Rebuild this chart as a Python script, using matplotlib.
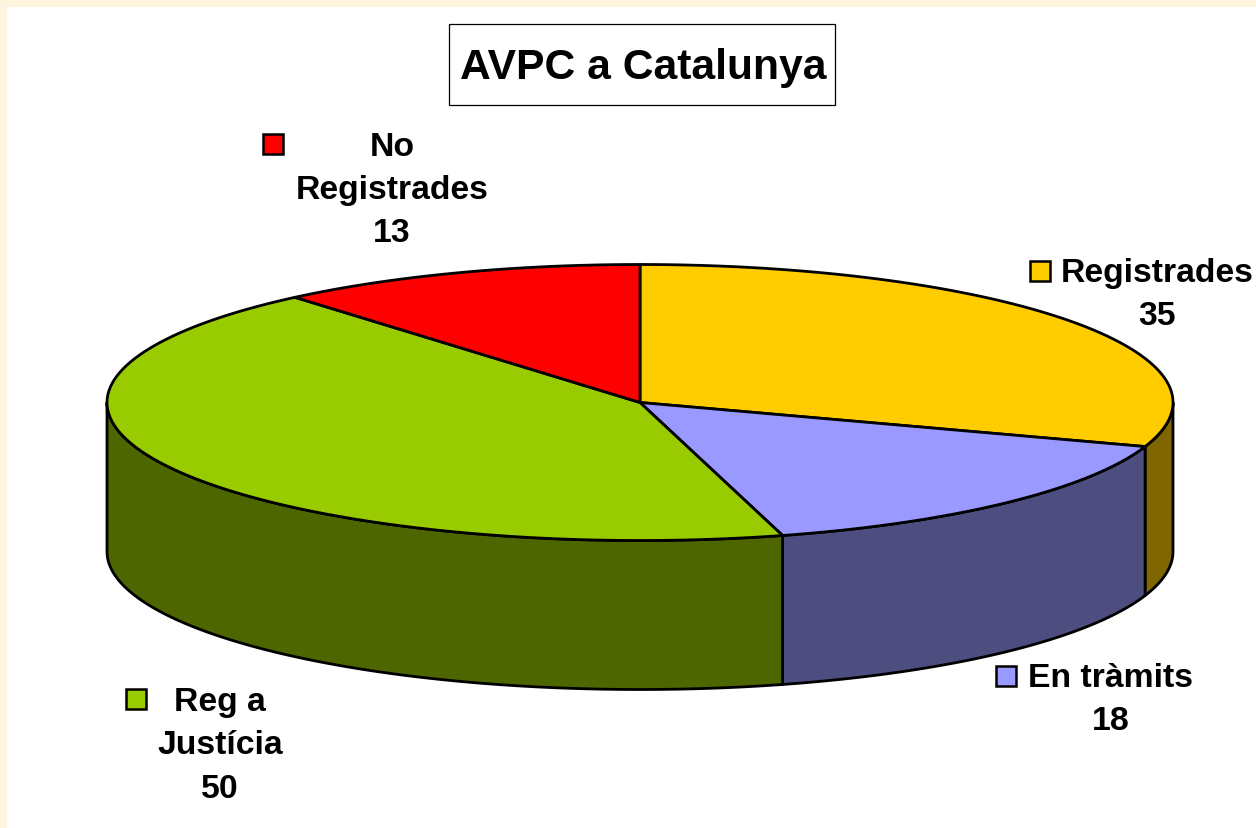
import numpy as np
import matplotlib
matplotlib.use('Agg')
import matplotlib.pyplot as plt
from matplotlib.patches import Polygon, Rectangle

labels = ['Registrades', 'En tràmits', 'Reg a\nJustícia', 'No\nRegistrades']
values = [35, 18, 50, 13]
top_colors = ['#FFCC00', '#9999FF', '#99CC00', '#FF0000']
side_colors = ['#806600', '#4D4D80', '#4D6600', '#800000']

plt.rcParams['font.family'] = ['Liberation Sans', 'DejaVu Sans']

W, H = 1256, 829
cx, cy = 640, 403.5
rx, ry = 533, 138
depth = 149
lw = 2

def rim(a0, a1, n=200):
  # angles clockwise from the top of the pie, in radians
  t = np.linspace(a0, a1, n)
  return cx + rx * np.sin(t), cy - ry * np.cos(t)

fig = plt.figure(figsize=(W / 100, H / 100), dpi=100, facecolor='#FFF5DF')
ax = fig.add_axes([0, 0, 1, 1])
ax.set_xlim(0, W)
ax.set_ylim(H, 0)
ax.axis('off')
ax.add_patch(Rectangle((7, 8), W, H, fc='white', ec='none', zorder=0))

edges = np.cumsum([0] + values) / sum(values) * 2 * np.pi

# walls, only the front half of the rim shows
for i in range(len(values)):
  a0 = max(edges[i], np.pi / 2)
  a1 = min(edges[i + 1], 3 * np.pi / 2)
  if a0 >= a1:
    continue
  x, y = rim(a0, a1)
  pts = np.concatenate([np.c_[x, y], np.c_[x[::-1], y[::-1] + depth]])
  ax.add_patch(Polygon(pts, fc=side_colors[i], ec='black', lw=lw, joinstyle='round', zorder=2))

# top face
for i in range(len(values)):
  x, y = rim(edges[i], edges[i + 1])
  pts = np.concatenate([[[cx, cy]], np.c_[x, y]])
  ax.add_patch(Polygon(pts, fc=top_colors[i], ec='black', lw=lw, joinstyle='round', zorder=3))

# title box
ax.text(643, 68, 'AVPC a Catalunya', fontsize=30.7, fontweight='bold', ha='center', va='center', zorder=5)
ax.add_patch(Rectangle((449, 25), 386, 81, fc='white', ec='black', lw=0.9, zorder=4))

# data labels: text centre and key square
label_pos = [(1157, 295), (1111, 700), (220, 746), (392, 190)]
key_pos = [(1030, 262), (996, 667), (126, 690), (263, 135)]
for i in range(len(values)):
  ax.text(label_pos[i][0], label_pos[i][1], labels[i] + '\n' + str(values[i]), fontsize=24.3, fontweight='bold',
          ha='center', va='center', linespacing=1.5, zorder=5)
  ax.add_patch(Rectangle(key_pos[i], 20, 20, fc=top_colors[i], ec='black', lw=1.8, zorder=5))

fig.savefig('out.png', dpi=100, facecolor=fig.get_facecolor())
